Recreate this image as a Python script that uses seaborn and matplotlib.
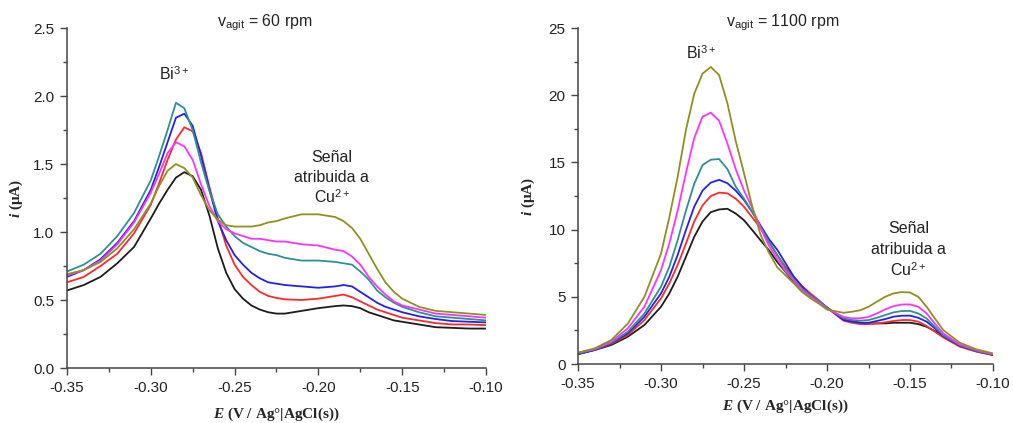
import numpy as np
import pandas as pd
import matplotlib
matplotlib.use("Agg")
import matplotlib.pyplot as plt
import seaborn as sns

# ---------------- data: stripping voltammograms ----------------
# 60 rpm panel
E_60 = [-0.35, -0.34, -0.33, -0.32, -0.31, -0.30, -0.295, -0.29, -0.285, -0.28,
        -0.275, -0.27, -0.265, -0.26, -0.255, -0.25, -0.245, -0.24, -0.235, -0.23,
        -0.225, -0.22, -0.21, -0.20, -0.19, -0.185, -0.18, -0.175, -0.17, -0.165,
        -0.16, -0.155, -0.15, -0.14, -0.13, -0.12, -0.11, -0.10]
black_60 = [0.57, 0.61, 0.67, 0.77, 0.89, 1.10, 1.21, 1.31, 1.40, 1.44,
            1.41, 1.31, 1.12, 0.88, 0.70, 0.58, 0.51, 0.46, 0.43, 0.41,
            0.40, 0.40, 0.42, 0.44, 0.455, 0.46, 0.455, 0.44, 0.41, 0.39,
            0.37, 0.35, 0.34, 0.32, 0.30, 0.295, 0.29, 0.29]
red_60 = [0.63, 0.67, 0.75, 0.84, 0.99, 1.20, 1.36, 1.53, 1.68, 1.77,
          1.74, 1.58, 1.33, 1.10, 0.90, 0.76, 0.67, 0.61, 0.56, 0.53,
          0.515, 0.505, 0.50, 0.51, 0.53, 0.54, 0.52, 0.49, 0.46, 0.43,
          0.41, 0.39, 0.37, 0.35, 0.33, 0.32, 0.32, 0.315]
blue_60 = [0.67, 0.72, 0.80, 0.92, 1.08, 1.31, 1.48, 1.66, 1.84, 1.87,
           1.78, 1.56, 1.31, 1.08, 0.94, 0.83, 0.76, 0.70, 0.66, 0.63,
           0.62, 0.61, 0.60, 0.59, 0.60, 0.61, 0.60, 0.56, 0.52, 0.48,
           0.45, 0.43, 0.41, 0.38, 0.36, 0.345, 0.34, 0.335]
teal_60 = [0.71, 0.76, 0.84, 0.97, 1.14, 1.38, 1.56, 1.75, 1.95, 1.91,
           1.75, 1.51, 1.30, 1.13, 1.04, 0.97, 0.92, 0.89, 0.86, 0.84,
           0.83, 0.81, 0.79, 0.79, 0.78, 0.77, 0.76, 0.71, 0.65, 0.57,
           0.52, 0.48, 0.45, 0.41, 0.38, 0.37, 0.36, 0.35]
magenta_60 = [0.68, 0.72, 0.79, 0.91, 1.07, 1.29, 1.43, 1.58, 1.66, 1.63,
              1.53, 1.35, 1.19, 1.08, 1.02, 0.99, 0.97, 0.95, 0.95, 0.94,
              0.93, 0.93, 0.91, 0.90, 0.87, 0.86, 0.82, 0.76, 0.67, 0.60,
              0.54, 0.49, 0.46, 0.43, 0.40, 0.39, 0.38, 0.37]
olive_60 = [0.69, 0.72, 0.78, 0.88, 1.02, 1.21, 1.34, 1.45, 1.50, 1.47,
            1.40, 1.27, 1.16, 1.09, 1.05, 1.04, 1.04, 1.04, 1.05, 1.07,
            1.08, 1.10, 1.13, 1.13, 1.11, 1.08, 1.03, 0.95, 0.84, 0.73,
            0.63, 0.56, 0.51, 0.45, 0.42, 0.41, 0.40, 0.39]

# 1100 rpm panel
E_1100 = [-0.35, -0.34, -0.33, -0.32, -0.31, -0.30, -0.295, -0.29, -0.285, -0.28,
          -0.275, -0.27, -0.265, -0.26, -0.255, -0.25, -0.245, -0.24, -0.235, -0.23,
          -0.225, -0.22, -0.215, -0.21, -0.205, -0.20, -0.19, -0.185, -0.18, -0.175,
          -0.17, -0.165, -0.16, -0.155, -0.15, -0.145, -0.14, -0.135, -0.13, -0.12,
          -0.11, -0.10]
black_1100 = [0.74, 1.04, 1.41, 2.03, 2.9, 4.26, 5.25, 6.49, 7.97, 9.46,
              10.6, 11.3, 11.5, 11.55, 11.2, 10.7, 9.96, 9.2, 8.47, 7.6,
              6.86, 6.1, 5.5, 5.0, 4.56, 4.2, 3.32, 3.2, 3.07, 3.02,
              3.02, 3.02, 3.07, 3.07, 3.07, 2.97, 2.77, 2.45, 2.08, 1.34,
              0.94, 0.67]
red_1100 = [0.74, 1.04, 1.49, 2.15, 3.27, 4.88, 6.0, 7.36, 8.96, 10.6,
            11.8, 12.5, 12.75, 12.7, 12.3, 11.7, 10.9, 10.1, 9.1, 8.1,
            7.23, 6.49, 5.8, 5.25, 4.75, 4.2, 3.22, 3.07, 2.97, 2.97,
            3.02, 3.1, 3.2, 3.27, 3.27, 3.15, 2.82, 2.4, 1.98, 1.29,
            0.92, 0.67]
blue_1100 = [0.74, 1.04, 1.54, 2.28, 3.52, 5.25, 6.49, 8.1, 9.96, 11.7,
             12.9, 13.5, 13.7, 13.45, 12.9, 12.2, 11.3, 10.3, 9.3, 8.5,
             7.5, 6.5, 5.75, 5.1, 4.7, 4.2, 3.27, 3.15, 3.07, 3.07,
             3.2, 3.34, 3.52, 3.59, 3.6, 3.44, 3.15, 2.65, 2.08, 1.36,
             0.97, 0.69]
teal_1100 = [0.79, 1.09, 1.58, 2.4, 3.76, 5.75, 7.23, 9.2, 11.4, 13.4,
             14.8, 15.2, 15.25, 14.5, 13.2, 12.3, 11.3, 10.2, 9.1, 8.1,
             7.1, 6.3, 5.6, 5.1, 4.7, 4.2, 3.4, 3.27, 3.22, 3.27,
             3.44, 3.64, 3.84, 3.94, 3.95, 3.76, 3.39, 2.77, 2.15, 1.41,
             0.99, 0.72]
magenta_1100 = [0.84, 1.10, 1.66, 2.65, 4.26, 6.98, 8.96, 11.4, 14.2, 16.8,
                18.4, 18.7, 18.1, 16.4, 14.5, 12.9, 11.6, 10.1, 8.8, 7.8,
                6.9, 6.2, 5.5, 5.0, 4.6, 4.1, 3.5, 3.4, 3.4, 3.5,
                3.76, 4.06, 4.3, 4.43, 4.43, 4.26, 3.76, 3.0, 2.28, 1.46,
                1.04, 0.74]
olive_1100 = [0.84, 1.16, 1.78, 3.0, 5.0, 8.2, 10.9, 13.9, 17.4, 20.1,
              21.6, 22.1, 21.5, 19.4, 16.6, 14.2, 11.7, 9.6, 8.3, 7.2,
              6.6, 6.0, 5.35, 4.9, 4.5, 4.05, 3.81, 3.89, 4.0, 4.26,
              4.63, 5.0, 5.25, 5.35, 5.32, 5.0, 4.26, 3.39, 2.53, 1.58,
              1.09, 0.79]

series_names = ["black", "red", "blue", "teal", "magenta", "olive"]
palette = {"black": "#1c1c1c", "red": "#ff2a2a", "blue": "#2222ee",
           "teal": "#2f9090", "magenta": "#ff33ff", "olive": "#8f8f22"}

x_ticks = [-0.35, -0.30, -0.25, -0.20, -0.15, -0.10]
x_ticklabels = ["-0.35", "-0.30", "-0.25", "-0.20", "-0.15", "-0.10"]
y_ticks_60 = [0.0, 0.5, 1.0, 1.5, 2.0, 2.5]
y_ticklabels_60 = ["0.0", "0.5", "1.0", "1.5", "2.0", "2.5"]
y_ticks_1100 = [0, 5, 10, 15, 20, 25]
y_ticklabels_1100 = ["0", "5", "10", "15", "20", "25"]


def long_frame(E, curves):
    rows = []
    for name, vals in zip(series_names, curves):
        for e, v in zip(E, vals):
            rows.append((name, e, v))
    return pd.DataFrame(rows, columns=["serie", "E", "i"])


df_60 = long_frame(E_60, [black_60, red_60, blue_60, teal_60, magenta_60, olive_60])
df_1100 = long_frame(E_1100, [black_1100, red_1100, blue_1100, teal_1100,
                              magenta_1100, olive_1100])

# ---------------- style ----------------
sns.set_theme(style="ticks")
plt.rcParams.update({
    "font.family": ["Liberation Sans", "DejaVu Sans"],
    "mathtext.fontset": "custom",
    "mathtext.rm": "Liberation Sans",
    "mathtext.it": "Liberation Serif:italic:bold",
    "mathtext.bf": "Liberation Serif:bold",
    "axes.edgecolor": "#444444",
    "axes.linewidth": 1.1,
    "xtick.color": "#444444",
    "ytick.color": "#444444",
    "xtick.labelcolor": "#222222",
    "ytick.labelcolor": "#222222",
})

fig = plt.figure(figsize=(10.13, 4.23), dpi=100)
ax1 = fig.add_axes([67 / 1013, 55 / 423, 419 / 1013, 340 / 423])
ax2 = fig.add_axes([578 / 1013, 59 / 423, 415 / 1013, 336 / 423])

for ax, df in ((ax1, df_60), (ax2, df_1100)):
    sns.lineplot(data=df, x="E", y="i", hue="serie", hue_order=series_names,
                 palette=palette, sort=False, estimator=None, legend=False,
                 linewidth=1.3, solid_joinstyle="round", ax=ax)

label_font = dict(family="Liberation Serif", weight="bold", size=11)
tick_size = 11

for ax in (ax1, ax2):
    sns.despine(ax=ax)
    ax.set_xlim(-0.35, -0.10)
    ax.set_xticks(x_ticks)
    ax.set_xticklabels(x_ticklabels)
    ax.set_xticks(np.arange(-0.325, -0.10, 0.05), minor=True)
    ax.tick_params(axis="both", which="major", direction="out", length=5,
                   width=1.0, labelsize=tick_size, pad=4)
    ax.tick_params(axis="both", which="minor", direction="out", length=3,
                   width=1.0)

ax1.set_ylim(0, 2.5)
ax1.set_yticks(y_ticks_60)
ax1.set_yticklabels(y_ticklabels_60)
ax1.set_yticks(np.arange(0.25, 2.5, 0.5), minor=True)

ax2.set_ylim(0, 25)
ax2.set_yticks(y_ticks_1100)
ax2.set_yticklabels(y_ticklabels_1100)
ax2.set_yticks(np.arange(2.5, 25, 5), minor=True)

xlabel = r"$\mathit{E}$ (V / Ag°|AgCl(s))"
ylabel = r"$\mathit{i}$ (μA)"
ax1.set_xlabel(xlabel, fontdict=label_font, labelpad=8)
ax2.set_xlabel(xlabel, fontdict=label_font, labelpad=5)
ax1.set_ylabel(ylabel, fontdict=label_font, labelpad=6)
ax2.set_ylabel(ylabel, fontdict=label_font, labelpad=8)

note_size = 11.5
txt_color = "#222222"

# stirring-rate headers
ax1.text(0.358, 1.003, r"v$_{\mathrm{agit}}$ = 60 rpm", transform=ax1.transAxes,
         ha="left", va="baseline", fontsize=note_size, color=txt_color)
ax2.text(0.357, 1.003, r"v$_{\mathrm{agit}}$ = 1100 rpm", transform=ax2.transAxes,
         ha="left", va="baseline", fontsize=note_size, color=txt_color)

# peak annotations
ax1.text(-0.286, 2.118, r"Bi$^{3+}$", ha="center", va="baseline",
         fontsize=note_size, color=txt_color)
ax2.text(-0.276, 22.7, r"Bi$^{3+}$", ha="center", va="baseline",
         fontsize=note_size, color=txt_color)

cu_lines = ["Señal", "atribuida a", r"Cu$^{2+}$"]
for txt, yv in zip(cu_lines, [1.518, 1.370, 1.212]):
    ax1.text(-0.192, yv, txt, ha="center", va="baseline",
             fontsize=note_size, color=txt_color)
for txt, yv in zip(cu_lines, [9.71, 8.22, 6.54]):
    ax2.text(-0.151, yv, txt, ha="center", va="baseline",
             fontsize=note_size, color=txt_color)

fig.savefig("out.png", dpi=100)
